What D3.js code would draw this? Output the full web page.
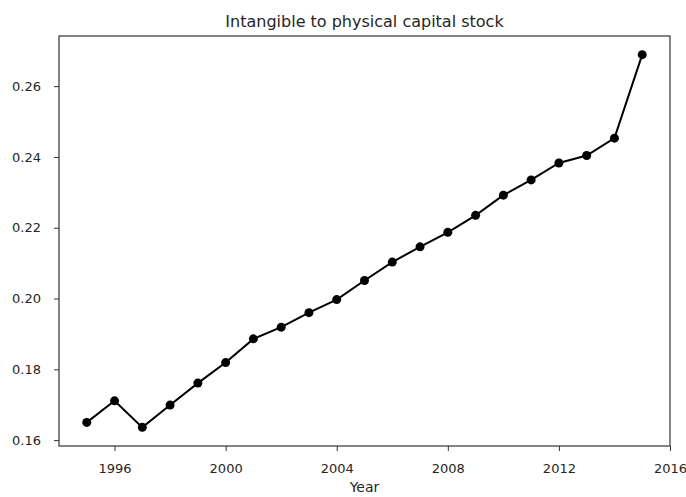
<!DOCTYPE html>
<html>
<head>
<meta charset="utf-8">
<script src="https://cdn.jsdelivr.net/npm/d3@7"></script>
<style>
  body { margin: 0; background: #fff; }
  text { font-family: "DejaVu Sans", sans-serif; fill: #262626; }
</style>
</head>
<body>
<div id="chart"></div>
<script>
// data
var years = [1995, 1996, 1997, 1998, 1999, 2000, 2001, 2002, 2003, 2004, 2005,
             2006, 2007, 2008, 2009, 2010, 2011, 2012, 2013, 2014, 2015];
var ratio = [0.1650, 0.1711, 0.1636, 0.1699, 0.1761, 0.1819, 0.1886, 0.1919, 0.1960, 0.1997, 0.2051,
             0.2103, 0.2146, 0.2187, 0.2235, 0.2292, 0.2335, 0.2383, 0.2404, 0.2453, 0.2689];
var xTicks = [1996, 2000, 2004, 2008, 2012, 2016];
var yTicks = [0.16, 0.18, 0.20, 0.22, 0.24, 0.26];
var title = "Intangible to physical capital stock";
var xLabel = "Year";

var width = 686, height = 497;
var margin = {top: 36, right: 16, bottom: 51, left: 59};

var svg = d3.select("#chart")
    .append("svg")
    .attr("width", width)
    .attr("height", height);

var plotW = width - margin.left - margin.right,
    plotH = height - margin.top - margin.bottom;

// matplotlib style 5% padding on both axes
var xPad = (d3.max(years) - d3.min(years)) * 0.05;
var yPad = (d3.max(ratio) - d3.min(ratio)) * 0.05;

var x = d3.scaleLinear()
    .domain([d3.min(years) - xPad, d3.max(years) + xPad])
    .range([margin.left, margin.left + plotW]);

var y = d3.scaleLinear()
    .domain([d3.min(ratio) - yPad, d3.max(ratio) + yPad])
    .range([margin.top + plotH, margin.top]);

// axes
var xAxis = svg.append("g")
    .attr("transform", "translate(0," + (margin.top + plotH) + ")")
    .call(d3.axisBottom(x).tickValues(xTicks).tickFormat(d3.format("d"))
      .tickSize(5).tickPadding(13));

var yAxis = svg.append("g")
    .attr("transform", "translate(" + margin.left + ",0)")
    .call(d3.axisLeft(y).tickValues(yTicks).tickFormat(d3.format(".2f"))
      .tickSize(5).tickPadding(13));

[xAxis, yAxis].forEach(function(g) {
  g.select(".domain").remove();
  g.selectAll("line").attr("stroke", "#333").attr("stroke-width", 1);
  g.selectAll("text")
    .style("font-size", "13px")
    .attr("fill", "#262626");
});

// frame
svg.append("rect")
    .attr("x", margin.left)
    .attr("y", margin.top)
    .attr("width", plotW)
    .attr("height", plotH)
    .attr("fill", "none")
    .attr("stroke", "#333")
    .attr("stroke-width", 1.2);

// line
var line = d3.line()
    .x(function(d, i) { return x(years[i]); })
    .y(function(d) { return y(d); });

svg.append("path")
    .datum(ratio)
    .attr("d", line)
    .attr("fill", "none")
    .attr("stroke", "#000")
    .attr("stroke-width", 2);

// markers
svg.append("g")
    .selectAll("circle")
    .data(ratio)
    .enter().append("circle")
    .attr("cx", function(d, i) { return x(years[i]); })
    .attr("cy", function(d) { return y(d); })
    .attr("r", 4.5)
    .attr("fill", "#000");

// title and axis label
svg.append("text")
    .attr("x", margin.left + plotW / 2)
    .attr("y", 26.5)
    .attr("text-anchor", "middle")
    .style("font-size", "16px")
    .text(title);

svg.append("text")
    .attr("x", margin.left + plotW / 2)
    .attr("y", 492)
    .attr("text-anchor", "middle")
    .style("font-size", "14px")
    .text(xLabel);
</script>
</body>
</html>
